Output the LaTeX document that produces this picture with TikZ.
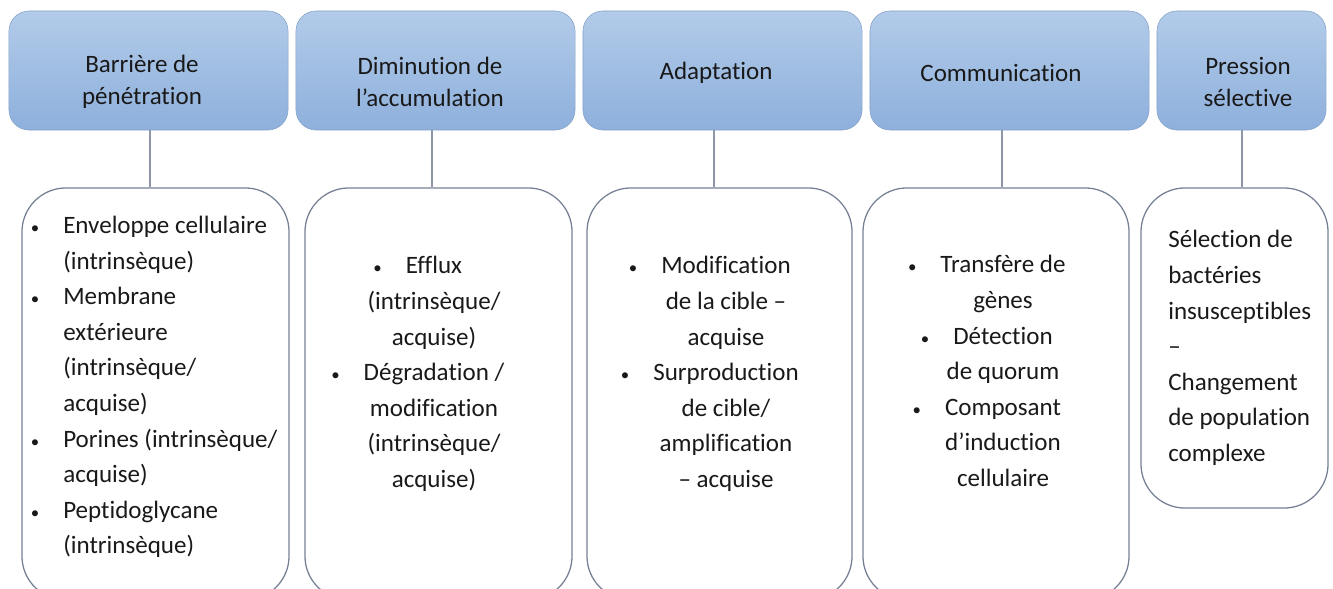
\documentclass[tikz,border=0pt]{standalone}
\usepackage{fontspec}
\setmainfont{Carlito}[Ligatures=NoCommon,RawFeature={-calt;-clig}]
\usetikzlibrary{positioning}

\definecolor{hdtop}{RGB}{178,203,233}
\definecolor{hdbot}{RGB}{142,176,220}
\definecolor{hdline}{RGB}{136,163,201}
\definecolor{boxline}{RGB}{118,128,148}
\definecolor{linkline}{RGB}{140,150,166}
\definecolor{txt}{RGB}{25,25,25}

\tikzset{
 head/.style={draw=hdline, top color=hdtop, bottom color=hdbot, rounded corners=0.5cm,
  minimum width=6.975cm, minimum height=2.975cm, inner sep=0pt},
 body/.style={draw=boxline, line width=0.9pt, rounded corners=1.1cm,
  minimum width=6.675cm, minimum height=10.3cm, inner sep=0pt},
 lbl/.style={text=txt, inner sep=0pt, align=center, font=\fontsize{17.8}{22.8}\selectfont},
 lst/.style={text=txt, inner sep=0pt, font=\fontsize{17.8}{25.3}\selectfont},
 link/.style={draw=linkline, line width=0.8pt}
}
\newcommand{\bul}{\llap{{\fontsize{12}{12}\selectfont\textbullet}\hspace{0.6cm}}}

\begin{document}
\begin{tikzpicture}[x=0.025cm,y=-0.025cm]
 \useasboundingbox (0,0) rectangle (1333,588);
 % top row
 \node[head] (h1) at (148.5,70.5) {};
 \node[head] (h2) at (435.5,70.5) {};
 \node[head] (h3) at (722.5,70.5) {};
 \node[head] (h4) at (1009.5,70.5) {};
 \node[head,minimum width=4.225cm] (h5) at (1241.5,70.5) {};
 \node[lbl] (t1) at (142,82) {Barrière de\\pénétration};
 \node[lbl] (t2) at (430,82) {Diminution de\\l’accumulation};
 \node[lbl] (t3) at (716,73) {Adaptation};
 \node[lbl] (t4) at (1001,73) {Communication};
 \node[lbl] (t5) at (1248,82) {Pression\\sélective};
 % bottom row
 \node[body] (b1) at (155.5,394) {};
 \node[body] (b2) at (438.5,394) {};
 \node[body,minimum width=6.625cm] (b3) at (719.5,394) {};
 \node[body,minimum width=6.65cm] (b4) at (996,394) {};
 \node[body,minimum width=4.675cm,minimum height=8cm] (b5) at (1234.5,348) {};
 % links
 \coordinate (c1) at (150,0);
 \coordinate (c2) at (432,0);
 \coordinate (c3) at (714,0);
 \coordinate (c4) at (1002,0);
 \coordinate (c5) at (1242,0);
 \foreach \i in {1,...,5}
  \draw[link] (c\i |- h\i.south) -- (c\i |- b\i.north);
 % lists
 \node[lst,align=left,anchor=west] (l1) at (63,387)
  {\bul Enveloppe cellulaire\\(intrinsèque)\\\bul Membrane\\extérieure\\(intrinsèque/\\acquise)\\\bul Porines (intrinsèque/\\acquise)\\\bul Peptidoglycane\\(intrinsèque)};
 \node[lst,align=center] (l2) at (434,374)
  {\bul Efflux\\(intrinsèque/\\acquise)\\\bul Dégradation /\\modification\\(intrinsèque/\\acquise)};
 \node[lst,align=center] (l3) at (726,374)
  {\bul Modification\\de la cible –\\acquise\\\bul Surproduction\\de cible/\\amplification\\– acquise};
 \node[lst,align=center] (l4) at (1003,371)
  {\bul Transfère de\\gènes\\\bul Détection\\de quorum\\\bul Composant\\d’induction\\cellulaire};
 \node[lst,align=left,anchor=west] (l5) at (1168,348)
  {Sélection de\\bactéries\\insusceptibles\\–\\Changement\\de population\\complexe};
\end{tikzpicture}
\end{document}
